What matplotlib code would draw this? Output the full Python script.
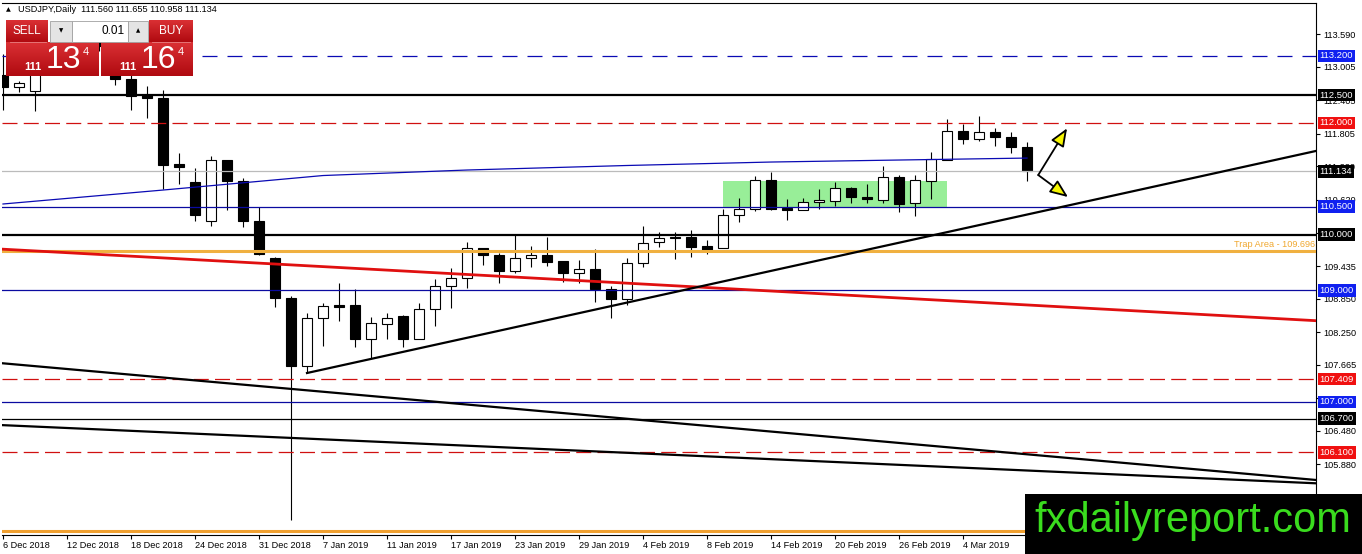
import numpy as np
import matplotlib.pyplot as plt
import matplotlib.transforms as mtransforms
from matplotlib.patches import Rectangle
from matplotlib.colors import LinearSegmentedColormap

plt.rcParams['font.family'] = ['Liberation Sans', 'DejaVu Sans']

# daily USDJPY candles, 6 Dec 2018 .. 8 Mar 2019
opens = [112.85, 112.64, 112.58, 113.30, 113.37, 113.55, 113.60, 113.38, 112.79, 112.50,
         112.45, 111.26, 110.94, 110.24, 111.34, 110.96, 110.24, 109.58, 108.86, 107.64,
         108.50, 108.74, 108.74, 108.13, 108.40, 108.54, 108.13, 108.66, 109.07, 109.22,
         109.76, 109.63, 109.34, 109.58, 109.63, 109.53, 109.31, 109.38, 109.02, 108.84,
         109.49, 109.87, 109.96, 109.96, 109.79, 109.76, 110.35, 110.46, 110.98, 110.47,
         110.44, 110.58, 110.60, 110.83, 110.67, 110.62, 111.03, 110.56, 110.96, 111.34,
         111.85, 111.71, 111.84, 111.75, 111.560]
highs = [113.23, 112.75, 113.35, 113.75, 113.70, 113.72, 113.75, 113.45, 112.90, 112.67,
         112.59, 111.46, 111.19, 111.41, 111.34, 111.01, 110.49, 109.60, 108.90, 108.60,
         108.77, 109.13, 109.02, 108.52, 108.60, 108.56, 108.77, 109.20, 109.40, 109.87,
         109.76, 109.67, 109.99, 109.79, 109.95, 109.53, 109.54, 109.74, 109.08, 109.58,
         110.15, 110.05, 110.05, 110.08, 109.90, 110.46, 110.65, 111.05, 111.12, 110.64,
         110.65, 110.81, 110.94, 110.85, 110.90, 111.23, 111.07, 111.07, 111.48, 112.07,
         111.98, 112.12, 111.91, 111.84, 111.655]
lows = [112.23, 112.55, 112.22, 113.10, 113.25, 113.40, 113.29, 112.68, 112.24, 112.08,
        110.82, 110.90, 110.24, 110.15, 110.44, 110.13, 109.63, 108.70, 104.88, 107.52,
        108.00, 108.45, 107.98, 107.79, 108.13, 107.98, 108.13, 108.36, 108.68, 109.04,
        109.45, 109.13, 109.31, 109.42, 109.44, 109.15, 109.13, 108.79, 108.50, 108.74,
        109.42, 109.78, 109.56, 109.60, 109.65, 109.76, 110.22, 110.42, 110.44, 110.26,
        110.44, 110.45, 110.51, 110.56, 110.56, 110.56, 110.40, 110.33, 110.64, 111.34,
        111.62, 111.67, 111.59, 111.46, 110.958]
closes = [112.65, 112.71, 113.30, 113.37, 113.55, 113.60, 113.38, 112.79, 112.48, 112.44,
          111.24, 111.21, 110.35, 111.34, 110.96, 110.24, 109.65, 108.86, 107.64, 108.50,
          108.72, 108.70, 108.13, 108.41, 108.50, 108.13, 108.66, 109.08, 109.22, 109.76,
          109.63, 109.34, 109.58, 109.63, 109.51, 109.31, 109.38, 109.02, 108.84, 109.49,
          109.85, 109.94, 109.94, 109.78, 109.70, 110.35, 110.46, 110.98, 110.46, 110.44,
          110.58, 110.62, 110.83, 110.67, 110.64, 111.03, 110.55, 110.98, 111.35, 111.85,
          111.71, 111.84, 111.75, 111.56, 111.134]

date_tick_bars = [0, 4, 8, 12, 16, 20, 24, 28, 32, 36, 40, 44, 48, 52, 56, 60]
date_tick_labels = ['6 Dec 2018', '12 Dec 2018', '18 Dec 2018', '24 Dec 2018', '31 Dec 2018',
                    '7 Jan 2019', '11 Jan 2019', '17 Jan 2019', '23 Jan 2019', '29 Jan 2019',
                    '4 Feb 2019', '8 Feb 2019', '14 Feb 2019', '20 Feb 2019', '26 Feb 2019',
                    '4 Mar 2019']
price_ticks = [113.590, 113.005, 112.405, 111.805, 111.220, 110.620, 110.035, 109.435,
               108.850, 108.250, 107.665, 107.065, 106.480, 105.880, 105.295]
# scale labels fully covered by a level tag in the reference
hidden_ticks = [110.035, 107.065]

# horizontal levels
levels = [113.200, 112.500, 112.000, 111.134, 110.500, 110.000, 109.000, 107.409, 107.000, 106.700, 106.100]
trap_level = 109.696
bottom_level = 104.69

# drawn lines (bar index, price)
ma_bars = [0, 10, 20, 29, 39, 48, 56, 64]
ma_prices = [110.547, 110.797, 111.057, 111.156, 111.237, 111.299, 111.335, 111.37]
support_bars = [19, 82.1]
support_prices = [107.518, 111.50]
red_bars = [-0.2, 82.1]
red_prices = [109.74, 108.455]
lower1_bars = [-0.2, 82.1]
lower1_prices = [107.697, 105.600]
lower2_bars = [-0.2, 82.1]
lower2_prices = [106.586, 105.541]
box_bars = [45.0, 59.0]
box_prices = [110.498, 110.959]
arrow_start = (64.7, 111.066)
arrow_tips = [(66.5, 111.903), (66.56, 110.672)]

fig = plt.figure(figsize=(13.62, 5.54), dpi=100)
ax = fig.add_axes([2 / 1362, 19 / 554, 1314 / 1362, 532 / 554])
ax.set_xlim(-0.0625, 82.06)
ax.set_ylim(104.615, 114.149)

# green range box (background)
ax.add_patch(Rectangle((box_bars[0], box_prices[0]), box_bars[1] - box_bars[0],
                       box_prices[1] - box_prices[0], facecolor='#98EE98', edgecolor='none', zorder=0.5))

# candles
x = np.arange(len(opens))
o = np.array(opens); h = np.array(highs); l = np.array(lows); c = np.array(closes)
ax.vlines(x, l, h, color='black', lw=0.8, zorder=2)
body_low = np.minimum(o, c)
body_h = np.maximum(np.abs(c - o), 0.012)
face = np.where(c >= o, 'white', 'black')
ax.bar(x, body_h, bottom=body_low, width=0.64, color=face, edgecolor='black', lw=0.8, zorder=2.1)

# level lines
level_styles = [
    dict(color='#0A0AB4', lw=0.9, ls=(0, (12, 8))),
    dict(color='black', lw=1.6, ls='-'),
    dict(color='#D01010', lw=0.9, ls=(0, (12, 5))),
    dict(color='#BBBBBB', lw=0.9, ls='-'),
    dict(color='#0A0AA0', lw=0.9, ls='-'),
    dict(color='black', lw=1.6, ls='-'),
    dict(color='#0A0AA0', lw=0.9, ls='-'),
    dict(color='#D01010', lw=0.9, ls=(0, (12, 5))),
    dict(color='#0A0AA0', lw=0.9, ls='-'),
    dict(color='black', lw=0.9, ls='-'),
    dict(color='#D01010', lw=0.9, ls=(0, (12, 5))),
]
for lev, st in zip(levels, level_styles):
    ax.axhline(lev, zorder=3, **st)
ax.axhline(trap_level, color='#F0B040', lw=2.2, zorder=3)
ax.axhline(bottom_level, color='#F0A030', lw=2.2, zorder=3)
ax.text(82.0, trap_level + 0.04, 'Trap Area - 109.696', color='#F0A830', fontsize=6.6,
        ha='right', va='bottom', zorder=4)

# trend lines
ax.plot(ma_bars, ma_prices, color='#0A0AB4', lw=0.9, zorder=3)
ax.plot(red_bars, red_prices, color='#E01010', lw=2.0, zorder=3)
ax.plot(support_bars, support_prices, color='black', lw=1.6, zorder=3)
ax.plot(lower1_bars, lower1_prices, color='black', lw=1.6, zorder=3)
ax.plot(lower2_bars, lower2_prices, color='black', lw=1.6, zorder=3)

for tip in arrow_tips:
    ax.annotate('', xy=tip, xytext=arrow_start,
                arrowprops=dict(arrowstyle='-|>,head_length=1.1,head_width=0.45',
                                facecolor='#F5F500', edgecolor='black', lw=1.3,
                                shrinkA=0, shrinkB=0), zorder=4)

# axes look
for side in ['top', 'right', 'bottom']:
    ax.spines[side].set_color('black')
    ax.spines[side].set_linewidth(0.8)
ax.spines['left'].set_visible(False)
ax.yaxis.tick_right()
ax.set_yticks(price_ticks, ['' if v in hidden_ticks else f'{v:.3f}' for v in price_ticks])
ax.tick_params(axis='y', direction='out', length=3, width=0.8, labelsize=6.6, pad=2)
ax.set_xticks(date_tick_bars, date_tick_labels)
ax.tick_params(axis='x', direction='out', length=3, width=0.8, labelsize=6.6, pad=1)
for lab in ax.get_xticklabels():
    lab.set_horizontalalignment('left')

# coloured level tags on the price scale
tag_colors = ['#1020F0', 'black', '#F01010', 'black', '#1020F0', 'black', '#1020F0',
              '#F01010', '#1020F0', 'black', '#F01010']
trans = mtransforms.blended_transform_factory(ax.transAxes, ax.transData)
for lev, tc in zip(levels, tag_colors):
    ax.text(1.0028, lev, f'{lev:.3f}', transform=trans, color='white', fontsize=6.8,
            ha='left', va='center', zorder=6, clip_on=False,
            bbox=dict(boxstyle='square,pad=0.2', facecolor=tc, edgecolor='none'))

# overlay in pixel coordinates: header, trade panel, watermark
ov = fig.add_axes([0, 0, 1, 1], zorder=10)
ov.set_xlim(0, 1362)
ov.set_ylim(554, 0)
ov.axis('off')
ov.patch.set_alpha(0)

ov.text(8, 10, '\u25B2', fontsize=4.5, ha='center', va='center', family=['DejaVu Sans'])
ov.text(18, 10, 'USDJPY,Daily  111.560 111.655 110.958 111.134', fontsize=6.6,
        ha='left', va='center')

grad = np.linspace(0, 1, 40).reshape(-1, 1)
reds = LinearSegmentedColormap.from_list('panel', ['#DA3034', '#B00A10'])
for x0, x1 in [(6, 99), (101, 193)]:
    ov.imshow(grad, cmap=reds, extent=(x0, x1, 76, 42), aspect='auto', zorder=1)
for x0, w, lab in [(6, 42, 'SELL'), (149, 44, 'BUY')]:
    ov.imshow(grad, cmap=reds, extent=(x0, x0 + w, 42, 20), aspect='auto', zorder=1)
    ov.text(x0 + w / 2, 31, lab, color='white', fontsize=8.5, ha='center', va='center', zorder=2)
ov.plot([10, 46], [42, 42], color='#E88080', lw=0.6, zorder=2)
ov.plot([152, 190], [42, 42], color='#E88080', lw=0.6, zorder=2)
ov.add_patch(Rectangle((50, 21), 22, 21, facecolor='#E4E4E4', edgecolor='#A0A0A0', lw=0.6, zorder=1))
ov.add_patch(Rectangle((72, 21), 56, 21, facecolor='white', edgecolor='#A0A0A0', lw=0.6, zorder=1))
ov.add_patch(Rectangle((128, 21), 20, 21, facecolor='#E4E4E4', edgecolor='#A0A0A0', lw=0.6, zorder=1))
ov.text(61, 31, '\u25BC', fontsize=4, ha='center', va='center', family=['DejaVu Sans'], zorder=2)
ov.text(138, 31, '\u25B2', fontsize=4, ha='center', va='center', family=['DejaVu Sans'], zorder=2)
ov.text(125, 31, '0.01', fontsize=8.5, ha='right', va='center', zorder=2)
for cx, big in [(6, '13'), (101, '16')]:
    ov.text(cx + 27, 67, '111', color='white', fontsize=8, fontweight='bold',
            ha='center', va='center', zorder=2)
    ov.text(cx + 57, 60, big, color='white', fontsize=23, ha='center', va='center', zorder=2)
    ov.text(cx + 80, 52, '4', color='white', fontsize=8, ha='center', va='center', zorder=2)

ov.add_patch(Rectangle((1025, 494), 337, 60, facecolor='black', edgecolor='none', zorder=1))
ov.text(1193, 521, 'fxdailyreport.com', color='#3ADC1E', fontsize=30, ha='center', va='center',
        family=['Liberation Sans Narrow', 'Liberation Sans'], zorder=2)

fig.savefig('out.png', dpi=100)
